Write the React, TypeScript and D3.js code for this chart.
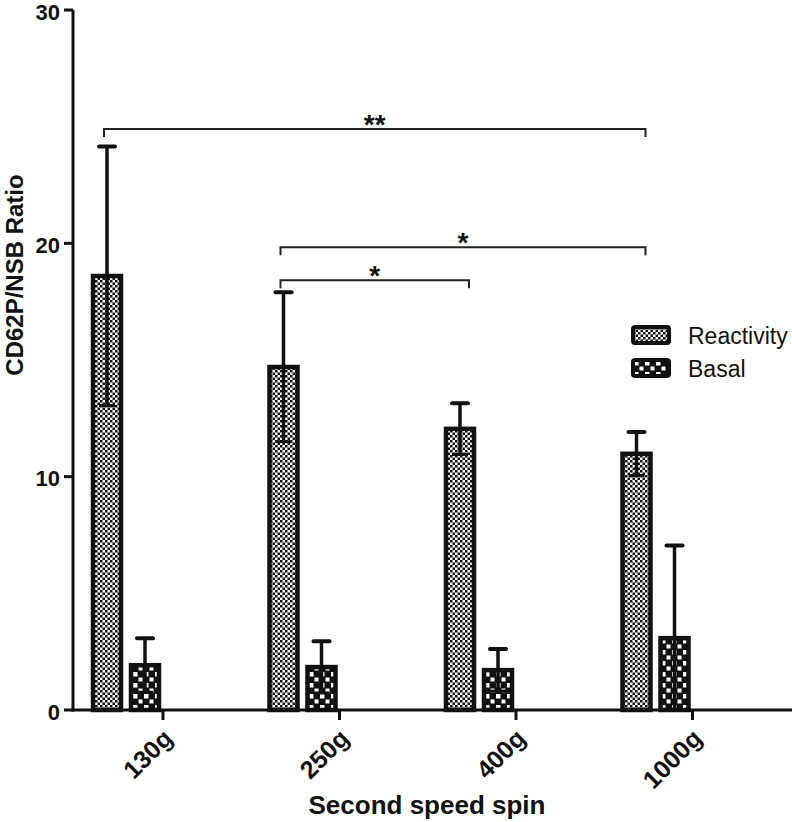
import React from "react";
import * as d3 from "d3";

const categories = ["130g", "250g", "400g", "1000g"];
const seriesNames = ["Reactivity", "Basal"];
const reactivityMean = [18.6, 14.7, 12.05, 10.98];
const reactivityErr = [5.55, 3.2, 1.1, 0.93];
const basalMean = [1.92, 1.84, 1.71, 3.08];
const basalErr = [1.16, 1.11, 0.9, 3.97];
const yTicks = [0, 10, 20, 30];
const brackets = [
  { from: "130g", to: "1000g", y: 24.9, label: "**" },
  { from: "250g", to: "1000g", y: 19.83, label: "*" },
  { from: "250g", to: "400g", y: 18.42, label: "*" },
];

const W = 792;
const H = 822;
const FONT = "Liberation Sans, Arial, Helvetica, sans-serif";

export default function App() {
  const y = d3.scaleLinear().domain([0, 30]).range([710, 10]);
  const x0 = d3.scaleBand<string>().domain(categories).range([37.75, 743.75]).paddingInner(0).paddingOuter(0);
  const barW = 28;
  const gap = 10;
  const groupCenter = (c: string) => (x0(c) as number) + x0.bandwidth() / 2;
  const sub = d3.scaleOrdinal<string, number>().domain(seriesNames).range([-(barW + gap) / 2, (barW + gap) / 2]);
  const tickX = (c: string) => groupCenter(c) + 37;
  const axisX = 73;

  const series = [
    { name: "Reactivity", mean: reactivityMean, err: reactivityErr, fill: "url(#patR)" },
    { name: "Basal", mean: basalMean, err: basalErr, fill: "url(#patB)" },
  ];

  return (
    <svg width={W} height={H} style={{ position: "absolute", left: 0, top: 0, background: "#fff" }} fontFamily={FONT}>
      <defs>
        <pattern id="patR" width={5} height={5} patternUnits="userSpaceOnUse">
          <rect width={5} height={5} fill="#fff" />
          <rect width={2.5} height={2.5} fill="#111" />
          <rect x={2.5} y={2.5} width={2.5} height={2.5} fill="#111" />
        </pattern>
        <pattern id="patB" width={11} height={11} patternUnits="userSpaceOnUse">
          <rect width={11} height={11} fill="#111" />
          <rect x={1} y={1} width={4.5} height={4.5} fill="#fff" />
          <rect x={6.5} y={6.5} width={4} height={4} fill="#fff" />
        </pattern>
      </defs>

      {/* bars */}
      {series.map((s) =>
        categories.map((c, i) => {
          const cx = groupCenter(c) + sub(s.name);
          const top = y(s.mean[i]);
          const hi = y(s.mean[i] + s.err[i]);
          const low = y(Math.max(0, s.mean[i] - s.err[i]));
          const lowClipped = s.mean[i] - s.err[i] <= 0;
          return (
            <g key={s.name + c}>
              <rect x={cx - barW / 2} y={top} width={barW} height={y(0) - top} fill={s.fill} stroke="#111" strokeWidth={4.5} />
              <line x1={cx} x2={cx} y1={hi} y2={low} stroke="#111" strokeWidth={3.5} />
              <line x1={cx - 8} x2={cx + 8} y1={hi} y2={hi} stroke="#111" strokeWidth={4} strokeLinecap="round" />
              {!lowClipped && <line x1={cx - 8} x2={cx + 8} y1={low} y2={low} stroke="#111" strokeWidth={3} />}
            </g>
          );
        })
      )}

      {/* axes */}
      <line x1={axisX} x2={axisX} y1={y(30)} y2={y(0) + 1.5} stroke="#111" strokeWidth={3} />
      {yTicks.map((t) => (
        <g key={t}>
          <line x1={axisX - 9} x2={axisX} y1={y(t)} y2={y(t)} stroke="#111" strokeWidth={3} />
          <text x={axisX - 13} y={y(t)} dy="0.44em" textAnchor="end" fontSize={22} fontWeight="bold" fill="#111">
            {t}
          </text>
        </g>
      ))}
      <line x1={axisX - 1.5} x2={W} y1={y(0)} y2={y(0)} stroke="#111" strokeWidth={3} />
      {categories.map((c) => (
        <g key={c}>
          <line x1={tickX(c)} x2={tickX(c)} y1={y(0)} y2={y(0) + 10} stroke="#111" strokeWidth={3} />
          <text
            transform={`translate(${tickX(c) + 11},${y(0) + 30}) rotate(-45)`}
            textAnchor="end"
            fontSize={25}
            fontWeight="bold"
            fill="#111"
          >
            {c}
          </text>
        </g>
      ))}

      <text x={427} y={814} textAnchor="middle" fontSize={26} fontWeight="bold" fill="#111">
        Second speed spin
      </text>
      <text transform={`translate(23,275) rotate(-90)`} textAnchor="middle" fontSize={24} fontWeight="bold" fill="#111">
        CD62P/NSB Ratio
      </text>

      {/* significance brackets */}
      {brackets.map((b, i) => {
        const xa = groupCenter(b.from) + sub("Reactivity") - 3;
        const xb = groupCenter(b.to) + sub("Reactivity") + 9;
        const by = y(b.y);
        return (
          <g key={i}>
            <path d={`M${xa},${by + 8}V${by}H${xb}V${by + 8}`} fill="none" stroke="#222" strokeWidth={2} />
            <text x={(xa + xb) / 2} y={by + 5} textAnchor="middle" fontSize={28} fontWeight="bold" fill="#111">
              {b.label}
            </text>
          </g>
        );
      })}

      {/* legend */}
      {series.map((s, i) => (
        <g key={s.name} transform={`translate(633,${327 + i * 33})`}>
          <rect x={0} y={0} width={36} height={16} rx={2} fill={s.fill} stroke="#111" strokeWidth={4} />
          <text x={55} y={17} fontSize={23} fill="#111">
            {s.name}
          </text>
        </g>
      ))}
    </svg>
  );
}
